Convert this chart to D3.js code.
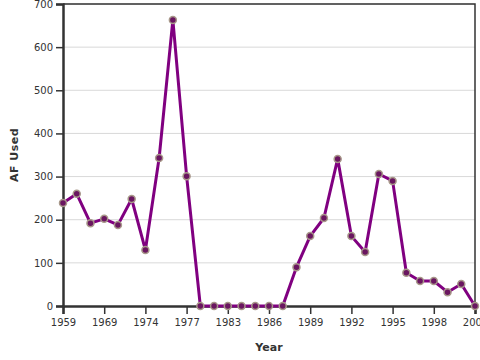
<!DOCTYPE html>
<html>
<head>
<meta charset="utf-8">
<script src="https://cdn.jsdelivr.net/npm/d3@7"></script>
<style>
  body { margin: 0; background: #fff; }
  svg { display: block; font-family: 'DejaVu Sans', sans-serif; }
</style>
</head>
<body>
<div id="chart"></div>
<script>
// ── DATA ──────────────────────────────────────────────────────────
const years = ['1959','1961','1965','1969','1971','1973','1974','1975','1976','1977',
               '1979','1981','1983','1984','1985','1986','1987','1988','1989','1990',
               '1991','1992','1993','1994','1995','1996','1997','1998','1999','2000','2001'];
const afUsed = [239, 260, 192, 202, 188, 248, 130, 343, 663, 301,
                0, 0, 0, 0, 0, 0, 0, 90, 162, 204,
                341, 162, 125, 306, 290, 77, 58, 58, 32, 51, 0];
const yTicks = [0, 100, 200, 300, 400, 500, 600, 700];

// ── CHART ─────────────────────────────────────────────────────────
const W = 480, H = 360;
const m = { top: 4, right: 5, bottom: 54, left: 63 };

const svg = d3.select('#chart').append('svg')
  .attr('width', W).attr('height', H);

const x = d3.scalePoint().domain(years).range([m.left, W - m.right]).padding(0);
const y = d3.scaleLinear().domain([0, 700]).range([H - m.bottom, m.top]);

// grid
svg.append('g')
  .selectAll('line')
  .data(yTicks.slice(1))
  .enter().append('line')
    .attr('x1', m.left).attr('x2', W - m.right)
    .attr('y1', d => y(d)).attr('y2', d => y(d))
    .attr('stroke', '#d9d9d9').attr('stroke-width', 1);

// frame (top + right)
svg.append('path')
  .attr('d', `M${m.left},${m.top}H${W - m.right}V${H - m.bottom}`)
  .attr('fill', 'none').attr('stroke', '#333').attr('stroke-width', 1.5);

// axes
const xAxis = svg.append('g')
  .attr('transform', `translate(0,${H - m.bottom})`)
  .call(d3.axisBottom(x).tickValues(years.filter((d, i) => i % 3 === 0)).tickSize(8).tickPadding(5));
const yAxis = svg.append('g')
  .attr('transform', `translate(${m.left},0)`)
  .call(d3.axisLeft(y).tickValues(yTicks).tickSize(7).tickPadding(3));

[xAxis, yAxis].forEach(a => {
  a.select('.domain').attr('stroke', '#333').attr('stroke-width', 2.5);
  a.selectAll('.tick line').attr('stroke', '#333').attr('stroke-width', 1.5);
  a.selectAll('.tick text').attr('fill', '#333').attr('font-size', 10)
    .attr('font-family', "'DejaVu Sans', sans-serif");
});

// axis titles
svg.append('text')
  .attr('x', (m.left + W - m.right) / 2).attr('y', H - 9)
  .attr('text-anchor', 'middle')
  .attr('font-size', 11).attr('font-weight', 'bold').attr('fill', '#333')
  .text('Year');
svg.append('text')
  .attr('transform', `translate(18,${(m.top + H - m.bottom) / 2}) rotate(-90)`)
  .attr('text-anchor', 'middle')
  .attr('font-size', 11).attr('font-weight', 'bold').attr('fill', '#333')
  .attr('letter-spacing', 0.5)
  .text('AF Used');

// line
const line = d3.line().x((d, i) => x(years[i])).y(d => y(d));
svg.append('path')
  .datum(afUsed)
  .attr('d', line)
  .attr('fill', 'none')
  .attr('stroke', '#800080')
  .attr('stroke-width', 3)
  .attr('stroke-linejoin', 'round');

// markers
svg.append('g')
  .selectAll('circle')
  .data(afUsed)
  .enter().append('circle')
    .attr('cx', (d, i) => x(years[i]))
    .attr('cy', d => y(d))
    .attr('r', 3.5)
    .attr('fill', '#6a1660')
    .attr('stroke', '#a8988a')
    .attr('stroke-width', 1.5);
</script>
</body>
</html>
